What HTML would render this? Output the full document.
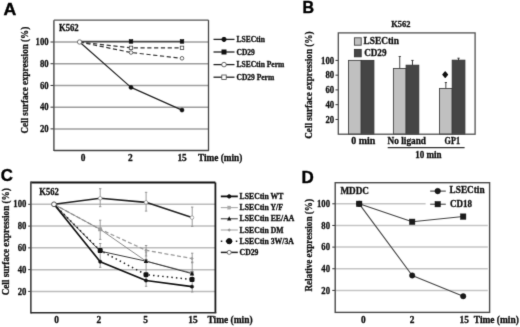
<!DOCTYPE html>
<html><head><meta charset="utf-8"><title>Figure</title>
<style>
html,body{margin:0;padding:0;background:#fff;}
body{width:520px;height:327px;overflow:hidden;position:relative;font-family:"Liberation Serif", serif;}
svg{position:absolute;left:0;top:0;display:block;}
</style></head>
<body>
<svg width="520" height="327" viewBox="0 0 520 327">
<defs><filter id="soft" x="0" y="0" width="520" height="327" filterUnits="userSpaceOnUse" color-interpolation-filters="sRGB"><feConvolveMatrix order="3" kernelMatrix="0.0113 0.0838 0.0113 0.0838 0.6193 0.0838 0.0113 0.0838 0.0113" edgeMode="duplicate" preserveAlpha="true"/></filter></defs>
<g filter="url(#soft)">
<rect x="0" y="0" width="520" height="327" fill="#fff"/>
<text transform="translate(3.5,14.8) scale(1.04,1)" font-size="17" text-anchor="start" font-family='"Liberation Sans", sans-serif' font-weight="bold" fill="#000" stroke="#000" stroke-width="0.4">A</text>
<line x1="53.90" y1="128.88" x2="208.50" y2="128.88" stroke="#9e9e9e" stroke-width="1.5" />
<line x1="50.50" y1="128.88" x2="53.90" y2="128.88" stroke="#333" stroke-width="1" />
<text transform="translate(48.6,132.03) scale(0.87,1)" font-size="10" text-anchor="end" font-family='"Liberation Serif", serif' font-weight="bold" fill="#111" stroke="#111" stroke-width="0.3">20</text>
<line x1="53.90" y1="107.16" x2="208.50" y2="107.16" stroke="#9e9e9e" stroke-width="1.5" />
<line x1="50.50" y1="107.16" x2="53.90" y2="107.16" stroke="#333" stroke-width="1" />
<text transform="translate(48.6,110.31) scale(0.87,1)" font-size="10" text-anchor="end" font-family='"Liberation Serif", serif' font-weight="bold" fill="#111" stroke="#111" stroke-width="0.3">40</text>
<line x1="53.90" y1="85.44" x2="208.50" y2="85.44" stroke="#9e9e9e" stroke-width="1.5" />
<line x1="50.50" y1="85.44" x2="53.90" y2="85.44" stroke="#333" stroke-width="1" />
<text transform="translate(48.6,88.58999999999999) scale(0.87,1)" font-size="10" text-anchor="end" font-family='"Liberation Serif", serif' font-weight="bold" fill="#111" stroke="#111" stroke-width="0.3">60</text>
<line x1="53.90" y1="63.72" x2="208.50" y2="63.72" stroke="#9e9e9e" stroke-width="1.5" />
<line x1="50.50" y1="63.72" x2="53.90" y2="63.72" stroke="#333" stroke-width="1" />
<text transform="translate(48.6,66.86999999999999) scale(0.87,1)" font-size="10" text-anchor="end" font-family='"Liberation Serif", serif' font-weight="bold" fill="#111" stroke="#111" stroke-width="0.3">80</text>
<line x1="53.90" y1="42.00" x2="208.50" y2="42.00" stroke="#9e9e9e" stroke-width="1.5" />
<line x1="50.50" y1="42.00" x2="53.90" y2="42.00" stroke="#333" stroke-width="1" />
<text transform="translate(48.6,45.149999999999984) scale(0.87,1)" font-size="10" text-anchor="end" font-family='"Liberation Serif", serif' font-weight="bold" fill="#111" stroke="#111" stroke-width="0.3">100</text>
<line x1="53.90" y1="20.15" x2="208.50" y2="20.15" stroke="#555" stroke-width="1.4" />
<line x1="208.50" y1="20.15" x2="208.50" y2="150.50" stroke="#444" stroke-width="1.3" />
<line x1="53.90" y1="20.15" x2="53.90" y2="151.10" stroke="#555" stroke-width="1.5" />
<line x1="53.90" y1="150.50" x2="209.10" y2="150.50" stroke="#444" stroke-width="1.4" />
<text x="58.9" y="30.7" font-size="9.6" text-anchor="start" font-family='"Liberation Serif", serif' font-weight="bold" fill="#111" textLength="19.8" lengthAdjust="spacingAndGlyphs" stroke="#111" stroke-width="0.3">K562</text>
<text transform="translate(28.2,80.2) rotate(-90)" x="0" y="0" font-size="10.6" text-anchor="middle" font-family='"Liberation Serif", serif' font-weight="bold" fill="#111" textLength="106.8" lengthAdjust="spacingAndGlyphs" stroke="#111" stroke-width="0.3">Cell surface expression (%)</text>
<text x="83.1" y="160.8" font-size="9.4" text-anchor="middle" font-family='"Liberation Serif", serif' font-weight="bold" fill="#111" stroke="#111" stroke-width="0.3">0</text>
<text x="130.3" y="160.8" font-size="9.4" text-anchor="middle" font-family='"Liberation Serif", serif' font-weight="bold" fill="#111" stroke="#111" stroke-width="0.3">2</text>
<text x="182.1" y="160.8" font-size="9.4" text-anchor="middle" font-family='"Liberation Serif", serif' font-weight="bold" fill="#111" stroke="#111" stroke-width="0.3">15</text>
<text x="197.9" y="160.6" font-size="9.4" text-anchor="start" font-family='"Liberation Serif", serif' font-weight="bold" fill="#111" textLength="44.4" lengthAdjust="spacingAndGlyphs" stroke="#111" stroke-width="0.3">Time (min)</text>
<polyline points="79.60,41.46 131.00,41.46 182.00,41.46" fill="none" stroke="#4a4a4a" stroke-width="1.6" stroke-linejoin="round"/>
<polyline points="79.60,42.00 131.00,47.86 182.00,47.86" fill="none" stroke="#333" stroke-width="1.2" stroke-dasharray="4.2,2.6" stroke-linejoin="round"/>
<polyline points="79.60,42.00 131.00,52.53 182.00,58.29" fill="none" stroke="#333" stroke-width="1.2" stroke-dasharray="4.2,2.6" stroke-linejoin="round"/>
<polyline points="79.60,42.00 131.00,87.39 182.00,110.09" fill="none" stroke="#222" stroke-width="1.2" stroke-linejoin="round"/>
<rect x="129.20" y="39.66" width="3.6" height="3.6" fill="#111" stroke="#111" stroke-width="0.6"/>
<rect x="180.20" y="39.66" width="3.6" height="3.6" fill="#111" stroke="#111" stroke-width="0.6"/>
<rect x="129.30" y="46.16" width="3.4" height="3.4" fill="#fff" stroke="#444" stroke-width="0.8"/>
<rect x="180.30" y="46.16" width="3.4" height="3.4" fill="#fff" stroke="#444" stroke-width="0.8"/>
<circle cx="131.00" cy="52.53" r="1.8" fill="#fff" stroke="#444" stroke-width="0.8"/>
<circle cx="182.00" cy="58.29" r="1.8" fill="#fff" stroke="#444" stroke-width="0.8"/>
<circle cx="131.00" cy="87.39" r="2.1" fill="#111" stroke="#111" stroke-width="0.4"/>
<circle cx="182.00" cy="110.09" r="2.1" fill="#111" stroke="#111" stroke-width="0.4"/>
<circle cx="79.60" cy="42.00" r="2.2" fill="#fff" stroke="#666" stroke-width="0.9"/>
<line x1="213.50" y1="39.40" x2="234.50" y2="39.40" stroke="#222" stroke-width="1.3" />
<circle cx="224.00" cy="39.40" r="2.1" fill="#111" stroke="#111" stroke-width="1"/>
<text x="236.5" y="42.0" font-size="7.5" text-anchor="start" font-family='"Liberation Serif", serif' font-weight="bold" fill="#111" stroke="#111" stroke-width="0.3">LSECtin</text>
<line x1="213.50" y1="52.00" x2="234.50" y2="52.00" stroke="#222" stroke-width="1.3" />
<rect x="222.00" y="50.00" width="4" height="4" fill="#111" stroke="#111" stroke-width="1"/>
<text x="236.5" y="54.6" font-size="7.5" text-anchor="start" font-family='"Liberation Serif", serif' font-weight="bold" fill="#111" stroke="#111" stroke-width="0.3">CD29</text>
<line x1="213.50" y1="64.60" x2="234.50" y2="64.60" stroke="#222" stroke-width="1.3" />
<circle cx="224.00" cy="64.60" r="2.3" fill="#fff" stroke="#444" stroke-width="0.8"/>
<text x="236.5" y="67.19999999999999" font-size="7.5" text-anchor="start" font-family='"Liberation Serif", serif' font-weight="bold" fill="#111" stroke="#111" stroke-width="0.3">LSECtin Perm</text>
<line x1="213.50" y1="77.20" x2="234.50" y2="77.20" stroke="#222" stroke-width="1.3" />
<rect x="221.80" y="75.00" width="4.4" height="4.4" fill="#fff" stroke="#444" stroke-width="0.8"/>
<text x="236.5" y="79.79999999999998" font-size="7.5" text-anchor="start" font-family='"Liberation Serif", serif' font-weight="bold" fill="#111" stroke="#111" stroke-width="0.3">CD29 Perm</text>
<text x="302.6" y="12.9" font-size="16" text-anchor="start" font-family='"Liberation Sans", sans-serif' font-weight="bold" fill="#000" stroke="#000" stroke-width="0.4">B</text>
<line x1="335.50" y1="119.44" x2="338.30" y2="119.44" stroke="#333" stroke-width="1" />
<text transform="translate(334.1,122.58999999999999) scale(0.87,1)" font-size="10" text-anchor="end" font-family='"Liberation Serif", serif' font-weight="bold" fill="#111" stroke="#111" stroke-width="0.3">20</text>
<line x1="335.50" y1="104.68" x2="338.30" y2="104.68" stroke="#333" stroke-width="1" />
<text transform="translate(334.1,107.83) scale(0.87,1)" font-size="10" text-anchor="end" font-family='"Liberation Serif", serif' font-weight="bold" fill="#111" stroke="#111" stroke-width="0.3">40</text>
<line x1="335.50" y1="89.92" x2="338.30" y2="89.92" stroke="#333" stroke-width="1" />
<text transform="translate(334.1,93.07) scale(0.87,1)" font-size="10" text-anchor="end" font-family='"Liberation Serif", serif' font-weight="bold" fill="#111" stroke="#111" stroke-width="0.3">60</text>
<line x1="335.50" y1="75.16" x2="338.30" y2="75.16" stroke="#333" stroke-width="1" />
<text transform="translate(334.1,78.31) scale(0.87,1)" font-size="10" text-anchor="end" font-family='"Liberation Serif", serif' font-weight="bold" fill="#111" stroke="#111" stroke-width="0.3">80</text>
<line x1="335.50" y1="60.40" x2="338.30" y2="60.40" stroke="#333" stroke-width="1" />
<text transform="translate(334.1,63.54999999999999) scale(0.87,1)" font-size="10" text-anchor="end" font-family='"Liberation Serif", serif' font-weight="bold" fill="#111" stroke="#111" stroke-width="0.3">100</text>
<rect x="348.50" y="60.40" width="12.7" height="73.80" fill="#c0c0c0" stroke="#444" stroke-width="0.9"/>
<rect x="361.20" y="60.40" width="12.7" height="73.80" fill="#454545" stroke="#333" stroke-width="0.9"/>
<rect x="393.40" y="68.52" width="12.7" height="65.68" fill="#c0c0c0" stroke="#444" stroke-width="0.9"/>
<rect x="406.10" y="65.20" width="12.7" height="69.00" fill="#454545" stroke="#333" stroke-width="0.9"/>
<line x1="399.75" y1="68.52" x2="399.75" y2="56.49" stroke="#444" stroke-width="1" />
<line x1="398.65" y1="56.49" x2="400.85" y2="56.49" stroke="#444" stroke-width="1" />
<line x1="412.45" y1="65.20" x2="412.45" y2="60.40" stroke="#333" stroke-width="1" />
<line x1="411.35" y1="60.40" x2="413.55" y2="60.40" stroke="#333" stroke-width="1" />
<rect x="439.50" y="88.44" width="12.7" height="45.76" fill="#c0c0c0" stroke="#444" stroke-width="0.9"/>
<rect x="452.20" y="60.18" width="12.7" height="74.02" fill="#454545" stroke="#333" stroke-width="0.9"/>
<line x1="445.85" y1="88.44" x2="445.85" y2="82.54" stroke="#444" stroke-width="1" />
<line x1="444.75" y1="82.54" x2="446.95" y2="82.54" stroke="#444" stroke-width="1" />
<line x1="458.55" y1="60.18" x2="458.55" y2="58.19" stroke="#333" stroke-width="1" />
<line x1="457.45" y1="58.19" x2="459.65" y2="58.19" stroke="#333" stroke-width="1" />
<rect x="338.3" y="32.9" width="136.80" height="101.30" fill="none" stroke="#505050" stroke-width="1.3"/>
<polygon points="445.2,71.9 447.5,74.6 445.2,77.3 442.9,74.6" fill="#111" stroke="#111" stroke-width="1.3" stroke-linejoin="round"/>
<rect x="354.4" y="37.8" width="6.8" height="7.4" fill="#c0c0c0" stroke="#444" stroke-width="0.9"/>
<rect x="354.4" y="49.4" width="6.8" height="7.4" fill="#454545" stroke="#333" stroke-width="0.9"/>
<text x="363.6" y="43.9" font-size="9.6" text-anchor="start" font-family='"Liberation Serif", serif' font-weight="bold" fill="#111" textLength="35.3" lengthAdjust="spacingAndGlyphs" stroke="#111" stroke-width="0.3">LSECtin</text>
<text x="364.2" y="55.7" font-size="9.6" text-anchor="start" font-family='"Liberation Serif", serif' font-weight="bold" fill="#111" textLength="22.3" lengthAdjust="spacingAndGlyphs" stroke="#111" stroke-width="0.3">CD29</text>
<text x="391.2" y="27.2" font-size="8.6" text-anchor="start" font-family='"Liberation Serif", serif' font-weight="bold" fill="#111" textLength="19.2" lengthAdjust="spacingAndGlyphs" stroke="#111" stroke-width="0.3">K562</text>
<text transform="translate(311.6,85.1) rotate(-90)" x="0" y="0" font-size="10.5" text-anchor="middle" font-family='"Liberation Serif", serif' font-weight="bold" fill="#111" textLength="107.3" lengthAdjust="spacingAndGlyphs" stroke="#111" stroke-width="0.3">Cell surface expression (%)</text>
<text x="351.2" y="144.2" font-size="9.4" text-anchor="start" font-family='"Liberation Serif", serif' font-weight="bold" fill="#111" textLength="24" lengthAdjust="spacingAndGlyphs" stroke="#111" stroke-width="0.3">0 min</text>
<text x="387.6" y="143.6" font-size="9.4" text-anchor="start" font-family='"Liberation Serif", serif' font-weight="bold" fill="#111" textLength="38.4" lengthAdjust="spacingAndGlyphs" stroke="#111" stroke-width="0.3">No ligand</text>
<text x="444.6" y="143.6" font-size="9.4" text-anchor="start" font-family='"Liberation Serif", serif' font-weight="bold" fill="#111" textLength="15.4" lengthAdjust="spacingAndGlyphs" stroke="#111" stroke-width="0.3">GP1</text>
<line x1="387.70" y1="147.60" x2="464.60" y2="147.60" stroke="#333" stroke-width="1.1" />
<text x="415.2" y="157.6" font-size="9.4" text-anchor="start" font-family='"Liberation Serif", serif' font-weight="bold" fill="#111" textLength="26.3" lengthAdjust="spacingAndGlyphs" stroke="#111" stroke-width="0.3">10 min</text>
<text x="0.7" y="180.9" font-size="16.8" text-anchor="start" font-family='"Liberation Sans", sans-serif' font-weight="bold" fill="#000" stroke="#000" stroke-width="0.4">C</text>
<line x1="30.85" y1="291.42" x2="215.40" y2="291.42" stroke="#bcbcbc" stroke-width="1.5" />
<line x1="28.20" y1="291.42" x2="30.85" y2="291.42" stroke="#333" stroke-width="1" />
<text transform="translate(26.4,294.56999999999994) scale(0.87,1)" font-size="10" text-anchor="end" font-family='"Liberation Serif", serif' font-weight="bold" fill="#111" stroke="#111" stroke-width="0.3">20</text>
<line x1="30.85" y1="269.64" x2="215.40" y2="269.64" stroke="#bcbcbc" stroke-width="1.5" />
<line x1="28.20" y1="269.64" x2="30.85" y2="269.64" stroke="#333" stroke-width="1" />
<text transform="translate(26.4,272.78999999999996) scale(0.87,1)" font-size="10" text-anchor="end" font-family='"Liberation Serif", serif' font-weight="bold" fill="#111" stroke="#111" stroke-width="0.3">40</text>
<line x1="30.85" y1="247.86" x2="215.40" y2="247.86" stroke="#bcbcbc" stroke-width="1.5" />
<line x1="28.20" y1="247.86" x2="30.85" y2="247.86" stroke="#333" stroke-width="1" />
<text transform="translate(26.4,251.01) scale(0.87,1)" font-size="10" text-anchor="end" font-family='"Liberation Serif", serif' font-weight="bold" fill="#111" stroke="#111" stroke-width="0.3">60</text>
<line x1="30.85" y1="226.08" x2="215.40" y2="226.08" stroke="#bcbcbc" stroke-width="1.5" />
<line x1="28.20" y1="226.08" x2="30.85" y2="226.08" stroke="#333" stroke-width="1" />
<text transform="translate(26.4,229.23) scale(0.87,1)" font-size="10" text-anchor="end" font-family='"Liberation Serif", serif' font-weight="bold" fill="#111" stroke="#111" stroke-width="0.3">80</text>
<line x1="30.85" y1="204.30" x2="215.40" y2="204.30" stroke="#bcbcbc" stroke-width="1.5" />
<line x1="28.20" y1="204.30" x2="30.85" y2="204.30" stroke="#333" stroke-width="1" />
<text transform="translate(26.4,207.45000000000002) scale(0.87,1)" font-size="10" text-anchor="end" font-family='"Liberation Serif", serif' font-weight="bold" fill="#111" stroke="#111" stroke-width="0.3">100</text>
<line x1="30.85" y1="182.50" x2="215.40" y2="182.50" stroke="#111" stroke-width="1.8" />
<line x1="215.40" y1="182.50" x2="215.40" y2="312.85" stroke="#1a1a1a" stroke-width="1.8" />
<line x1="30.85" y1="181.60" x2="30.85" y2="313.55" stroke="#4a4a4a" stroke-width="1.7" />
<line x1="30.85" y1="312.85" x2="216.30" y2="312.85" stroke="#2a2a2a" stroke-width="1.5" />
<text x="39.2" y="195.3" font-size="9.6" text-anchor="start" font-family='"Liberation Serif", serif' font-weight="bold" fill="#111" textLength="19.6" lengthAdjust="spacingAndGlyphs" stroke="#111" stroke-width="0.3">K562</text>
<text transform="translate(8.8,241.8) rotate(-90)" x="0" y="0" font-size="10.6" text-anchor="middle" font-family='"Liberation Serif", serif' font-weight="bold" fill="#111" textLength="107" lengthAdjust="spacingAndGlyphs" stroke="#111" stroke-width="0.3">Cell surface expression (%)</text>
<text x="56.6" y="322.9" font-size="9.4" text-anchor="middle" font-family='"Liberation Serif", serif' font-weight="bold" fill="#111" stroke="#111" stroke-width="0.3">0</text>
<text x="98.8" y="322.9" font-size="9.4" text-anchor="middle" font-family='"Liberation Serif", serif' font-weight="bold" fill="#111" stroke="#111" stroke-width="0.3">2</text>
<text x="145.5" y="322.9" font-size="9.4" text-anchor="middle" font-family='"Liberation Serif", serif' font-weight="bold" fill="#111" stroke="#111" stroke-width="0.3">5</text>
<text x="192.9" y="322.9" font-size="9.4" text-anchor="middle" font-family='"Liberation Serif", serif' font-weight="bold" fill="#111" stroke="#111" stroke-width="0.3">15</text>
<text x="207.4" y="322.9" font-size="9.4" text-anchor="start" font-family='"Liberation Serif", serif' font-weight="bold" fill="#111" textLength="45.2" lengthAdjust="spacingAndGlyphs" stroke="#111" stroke-width="0.3">Time (min)</text>
<line x1="100.20" y1="188.70" x2="100.20" y2="206.70" stroke="#909090" stroke-width="0.9" />
<line x1="99.00" y1="188.70" x2="101.40" y2="188.70" stroke="#909090" stroke-width="0.9" />
<line x1="99.00" y1="206.70" x2="101.40" y2="206.70" stroke="#909090" stroke-width="0.9" />
<line x1="100.20" y1="220.20" x2="100.20" y2="239.40" stroke="#909090" stroke-width="0.9" />
<line x1="99.00" y1="220.20" x2="101.40" y2="220.20" stroke="#909090" stroke-width="0.9" />
<line x1="99.00" y1="239.40" x2="101.40" y2="239.40" stroke="#909090" stroke-width="0.9" />
<line x1="100.20" y1="243.50" x2="100.20" y2="267.30" stroke="#909090" stroke-width="0.9" />
<line x1="99.00" y1="243.50" x2="101.40" y2="243.50" stroke="#909090" stroke-width="0.9" />
<line x1="99.00" y1="267.30" x2="101.40" y2="267.30" stroke="#909090" stroke-width="0.9" />
<line x1="146.10" y1="192.30" x2="146.10" y2="211.10" stroke="#909090" stroke-width="0.9" />
<line x1="144.90" y1="192.30" x2="147.30" y2="192.30" stroke="#909090" stroke-width="0.9" />
<line x1="144.90" y1="211.10" x2="147.30" y2="211.10" stroke="#909090" stroke-width="0.9" />
<line x1="146.10" y1="245.50" x2="146.10" y2="256.00" stroke="#909090" stroke-width="0.9" />
<line x1="144.90" y1="245.50" x2="147.30" y2="245.50" stroke="#909090" stroke-width="0.9" />
<line x1="144.90" y1="256.00" x2="147.30" y2="256.00" stroke="#909090" stroke-width="0.9" />
<line x1="146.10" y1="252.00" x2="146.10" y2="286.30" stroke="#909090" stroke-width="0.9" />
<line x1="144.90" y1="252.00" x2="147.30" y2="252.00" stroke="#909090" stroke-width="0.9" />
<line x1="144.90" y1="286.30" x2="147.30" y2="286.30" stroke="#909090" stroke-width="0.9" />
<line x1="192.20" y1="207.10" x2="192.20" y2="226.40" stroke="#909090" stroke-width="0.9" />
<line x1="191.00" y1="207.10" x2="193.40" y2="207.10" stroke="#909090" stroke-width="0.9" />
<line x1="191.00" y1="226.40" x2="193.40" y2="226.40" stroke="#909090" stroke-width="0.9" />
<line x1="192.20" y1="253.20" x2="192.20" y2="262.80" stroke="#909090" stroke-width="0.9" />
<line x1="191.00" y1="253.20" x2="193.40" y2="253.20" stroke="#909090" stroke-width="0.9" />
<line x1="191.00" y1="262.80" x2="193.40" y2="262.80" stroke="#909090" stroke-width="0.9" />
<line x1="192.20" y1="262.00" x2="192.20" y2="292.00" stroke="#909090" stroke-width="0.9" />
<line x1="191.00" y1="262.00" x2="193.40" y2="262.00" stroke="#909090" stroke-width="0.9" />
<line x1="191.00" y1="292.00" x2="193.40" y2="292.00" stroke="#909090" stroke-width="0.9" />
<polyline points="54.00,204.30 100.20,229.35 146.00,250.26 192.00,258.53" fill="none" stroke="#9a9a9a" stroke-width="1.3" stroke-dasharray="4,2.4" stroke-linejoin="round"/>
<polyline points="54.00,204.30 100.20,229.35 146.00,261.15 192.00,272.91" fill="none" stroke="#8a8a8a" stroke-width="1.0" stroke-linejoin="round"/>
<polyline points="54.00,204.30 100.20,251.13 146.00,261.15 192.00,273.67" fill="none" stroke="#3a3a3a" stroke-width="1.0" stroke-linejoin="round"/>
<polyline points="54.00,204.30 100.20,250.58 146.00,274.65 192.00,279.55" fill="none" stroke="#222" stroke-width="1.5" stroke-dasharray="1.5,3.1" stroke-linejoin="round"/>
<polyline points="54.00,204.30 100.20,261.69 146.00,280.53 192.00,286.63" fill="none" stroke="#111" stroke-width="1.65" stroke-linejoin="round"/>
<polyline points="54.00,204.30 100.20,198.31 146.00,202.34 192.00,217.59" fill="none" stroke="#222" stroke-width="1.6" stroke-linejoin="round"/>
<rect x="98.60" y="227.75" width="3.2" height="3.2" fill="#999" stroke="#999" stroke-width="0.5"/>
<polygon points="100.20,227.65 101.90,229.35 100.20,231.05 98.50,229.35" fill="#999"/>
<polygon points="100.20,248.49 102.40,252.89 98.00,252.89" fill="#111"/>
<rect x="97.70" y="248.08" width="5" height="5" rx="1.3" fill="#111"/>
<circle cx="100.20" cy="261.69" r="1.7" fill="#111" stroke="#111" stroke-width="0.4"/>
<circle cx="100.20" cy="198.31" r="1.8" fill="#fff" stroke="#888" stroke-width="0.7"/>
<rect x="144.40" y="259.55" width="3.2" height="3.2" fill="#999" stroke="#999" stroke-width="0.5"/>
<polygon points="146.00,248.56 147.70,250.26 146.00,251.96 144.30,250.26" fill="#999"/>
<polygon points="146.00,258.51 148.20,262.91 143.80,262.91" fill="#111"/>
<rect x="143.50" y="272.15" width="5" height="5" rx="1.3" fill="#111"/>
<circle cx="146.00" cy="280.53" r="1.7" fill="#111" stroke="#111" stroke-width="0.4"/>
<circle cx="146.00" cy="202.34" r="1.8" fill="#fff" stroke="#888" stroke-width="0.7"/>
<rect x="190.40" y="271.31" width="3.2" height="3.2" fill="#999" stroke="#999" stroke-width="0.5"/>
<polygon points="192.00,256.83 193.70,258.53 192.00,260.23 190.30,258.53" fill="#999"/>
<polygon points="192.00,271.03 194.20,275.43 189.80,275.43" fill="#111"/>
<rect x="189.50" y="277.05" width="5" height="5" rx="1.3" fill="#111"/>
<circle cx="192.00" cy="286.63" r="1.7" fill="#111" stroke="#111" stroke-width="0.4"/>
<circle cx="192.00" cy="217.59" r="1.8" fill="#fff" stroke="#888" stroke-width="0.7"/>
<circle cx="54.00" cy="204.30" r="2.4" fill="#fff" stroke="#444" stroke-width="0.9"/>
<line x1="220.80" y1="196.40" x2="237.80" y2="196.40" stroke="#111" stroke-width="1.8" />
<circle cx="229.20" cy="196.40" r="1.7" fill="#111" stroke="#111" stroke-width="1"/>
<text transform="translate(239.6,198.95000000000002) scale(1.03,1)" font-size="7.5" text-anchor="start" font-family='"Liberation Serif", serif' font-weight="bold" fill="#111" stroke="#111" stroke-width="0.3">LSECtin WT</text>
<line x1="220.80" y1="207.60" x2="237.80" y2="207.60" stroke="#aaa" stroke-width="1.1" />
<rect x="227.60" y="206.00" width="3.2" height="3.2" fill="#aaa" stroke="#aaa" stroke-width="0.3"/>
<text transform="translate(239.6,210.15) scale(1.03,1)" font-size="7.5" text-anchor="start" font-family='"Liberation Serif", serif' font-weight="bold" fill="#111" stroke="#111" stroke-width="0.3">LSECtin Y/F</text>
<line x1="220.80" y1="218.80" x2="237.80" y2="218.80" stroke="#333" stroke-width="1.0" />
<polygon points="229.20,216.28 231.30,220.48 227.10,220.48" fill="#111"/>
<text transform="translate(239.6,221.35000000000002) scale(1.03,1)" font-size="7.5" text-anchor="start" font-family='"Liberation Serif", serif' font-weight="bold" fill="#111" stroke="#111" stroke-width="0.3">LSECtin EE/AA</text>
<line x1="220.80" y1="230.00" x2="237.80" y2="230.00" stroke="#aaa" stroke-width="1.1" />
<polygon points="229.20,228.30 230.90,230.00 229.20,231.70 227.50,230.00" fill="#999"/>
<text transform="translate(239.6,232.55) scale(1.03,1)" font-size="7.5" text-anchor="start" font-family='"Liberation Serif", serif' font-weight="bold" fill="#111" stroke="#111" stroke-width="0.3">LSECtin DM</text>
<line x1="220.80" y1="241.20" x2="237.80" y2="241.20" stroke="#222" stroke-width="1.4" stroke-dasharray="1.5,3.5" />
<circle cx="229.20" cy="241.20" r="2.6" fill="#111" stroke="#111" stroke-width="1"/>
<text transform="translate(239.6,243.75) scale(1.03,1)" font-size="7.5" text-anchor="start" font-family='"Liberation Serif", serif' font-weight="bold" fill="#111" stroke="#111" stroke-width="0.3">LSECtin 3W/3A</text>
<line x1="220.80" y1="252.40" x2="237.80" y2="252.40" stroke="#222" stroke-width="1.5" />
<circle cx="229.20" cy="252.40" r="2.0" fill="#fff" stroke="#555" stroke-width="0.8"/>
<text transform="translate(239.6,254.95000000000002) scale(1.03,1)" font-size="7.5" text-anchor="start" font-family='"Liberation Serif", serif' font-weight="bold" fill="#111" stroke="#111" stroke-width="0.3">CD29</text>
<text x="301.4" y="183.0" font-size="17" text-anchor="start" font-family='"Liberation Sans", sans-serif' font-weight="bold" fill="#000" stroke="#000" stroke-width="0.4">D</text>
<line x1="335.20" y1="290.40" x2="487.80" y2="290.40" stroke="#c5c5c5" stroke-width="1.5" />
<line x1="332.30" y1="290.40" x2="335.20" y2="290.40" stroke="#333" stroke-width="1" />
<text transform="translate(330,293.55) scale(0.87,1)" font-size="10" text-anchor="end" font-family='"Liberation Serif", serif' font-weight="bold" fill="#111" stroke="#111" stroke-width="0.3">20</text>
<line x1="335.20" y1="268.75" x2="487.80" y2="268.75" stroke="#c5c5c5" stroke-width="1.5" />
<line x1="332.30" y1="268.75" x2="335.20" y2="268.75" stroke="#333" stroke-width="1" />
<text transform="translate(330,271.9) scale(0.87,1)" font-size="10" text-anchor="end" font-family='"Liberation Serif", serif' font-weight="bold" fill="#111" stroke="#111" stroke-width="0.3">40</text>
<line x1="335.20" y1="247.10" x2="487.80" y2="247.10" stroke="#c5c5c5" stroke-width="1.5" />
<line x1="332.30" y1="247.10" x2="335.20" y2="247.10" stroke="#333" stroke-width="1" />
<text transform="translate(330,250.25000000000003) scale(0.87,1)" font-size="10" text-anchor="end" font-family='"Liberation Serif", serif' font-weight="bold" fill="#111" stroke="#111" stroke-width="0.3">60</text>
<line x1="335.20" y1="225.45" x2="487.80" y2="225.45" stroke="#c5c5c5" stroke-width="1.5" />
<line x1="332.30" y1="225.45" x2="335.20" y2="225.45" stroke="#333" stroke-width="1" />
<text transform="translate(330,228.60000000000002) scale(0.87,1)" font-size="10" text-anchor="end" font-family='"Liberation Serif", serif' font-weight="bold" fill="#111" stroke="#111" stroke-width="0.3">80</text>
<line x1="335.20" y1="203.80" x2="487.80" y2="203.80" stroke="#c5c5c5" stroke-width="1.5" />
<line x1="332.30" y1="203.80" x2="335.20" y2="203.80" stroke="#333" stroke-width="1" />
<text transform="translate(330,206.95000000000002) scale(0.87,1)" font-size="10" text-anchor="end" font-family='"Liberation Serif", serif' font-weight="bold" fill="#111" stroke="#111" stroke-width="0.3">100</text>
<rect x="425.6" y="184" width="63" height="27" fill="#fff"/>
<rect x="335.2" y="182.7" width="154.40" height="129.70" fill="none" stroke="#4a4a4a" stroke-width="1.4"/>
<text x="340.4" y="193.8" font-size="9.4" text-anchor="start" font-family='"Liberation Serif", serif' font-weight="bold" fill="#111" textLength="28.5" lengthAdjust="spacingAndGlyphs" stroke="#111" stroke-width="0.3">MDDC</text>
<text transform="translate(312.0,245.3) rotate(-90)" x="0" y="0" font-size="10.5" text-anchor="middle" font-family='"Liberation Serif", serif' font-weight="bold" fill="#111" textLength="92.5" lengthAdjust="spacingAndGlyphs" stroke="#111" stroke-width="0.3">Relative expression (%)</text>
<polyline points="359.20,203.80 412.20,275.46 463.20,296.25" fill="none" stroke="#444" stroke-width="1.1" stroke-linejoin="round"/>
<polyline points="359.20,203.80 412.20,221.77 463.20,216.57" fill="none" stroke="#444" stroke-width="1.1" stroke-linejoin="round"/>
<circle cx="359.20" cy="203.80" r="2.7" fill="#1a1a1a" stroke="#111" stroke-width="0.5"/>
<circle cx="412.20" cy="275.46" r="2.7" fill="#1a1a1a" stroke="#111" stroke-width="0.5"/>
<circle cx="463.20" cy="296.25" r="2.7" fill="#1a1a1a" stroke="#111" stroke-width="0.5"/>
<rect x="356.50" y="201.10" width="5.4" height="5.4" fill="#1a1a1a" stroke="#111" stroke-width="0.5"/>
<rect x="409.50" y="219.07" width="5.4" height="5.4" fill="#1a1a1a" stroke="#111" stroke-width="0.5"/>
<rect x="460.50" y="213.87" width="5.4" height="5.4" fill="#1a1a1a" stroke="#111" stroke-width="0.5"/>
<line x1="430.20" y1="191.10" x2="445.80" y2="191.10" stroke="#333" stroke-width="1" />
<circle cx="437.70" cy="191.10" r="2.8" fill="#1a1a1a" stroke="#111" stroke-width="0.5"/>
<line x1="430.20" y1="204.20" x2="445.80" y2="204.20" stroke="#333" stroke-width="1" />
<rect x="435.00" y="201.50" width="5.4" height="5.4" fill="#1a1a1a" stroke="#111" stroke-width="0.5"/>
<text x="449.6" y="193.3" font-size="9.4" text-anchor="start" font-family='"Liberation Serif", serif' font-weight="bold" fill="#111" textLength="35" lengthAdjust="spacingAndGlyphs" stroke="#111" stroke-width="0.3">LSECtin</text>
<text x="450.1" y="207" font-size="9.4" text-anchor="start" font-family='"Liberation Serif", serif' font-weight="bold" fill="#111" textLength="22" lengthAdjust="spacingAndGlyphs" stroke="#111" stroke-width="0.3">CD18</text>
<text x="363.3" y="322.6" font-size="9.4" text-anchor="middle" font-family='"Liberation Serif", serif' font-weight="bold" fill="#111" stroke="#111" stroke-width="0.3">0</text>
<text x="412.1" y="322.6" font-size="9.4" text-anchor="middle" font-family='"Liberation Serif", serif' font-weight="bold" fill="#111" stroke="#111" stroke-width="0.3">2</text>
<text x="464.3" y="322.6" font-size="9.4" text-anchor="middle" font-family='"Liberation Serif", serif' font-weight="bold" fill="#111" stroke="#111" stroke-width="0.3">15</text>
<text x="473.8" y="322.6" font-size="9.4" text-anchor="start" font-family='"Liberation Serif", serif' font-weight="bold" fill="#111" textLength="45" lengthAdjust="spacingAndGlyphs" stroke="#111" stroke-width="0.3">Time (min)</text>
</g>
</svg>
</body></html>
